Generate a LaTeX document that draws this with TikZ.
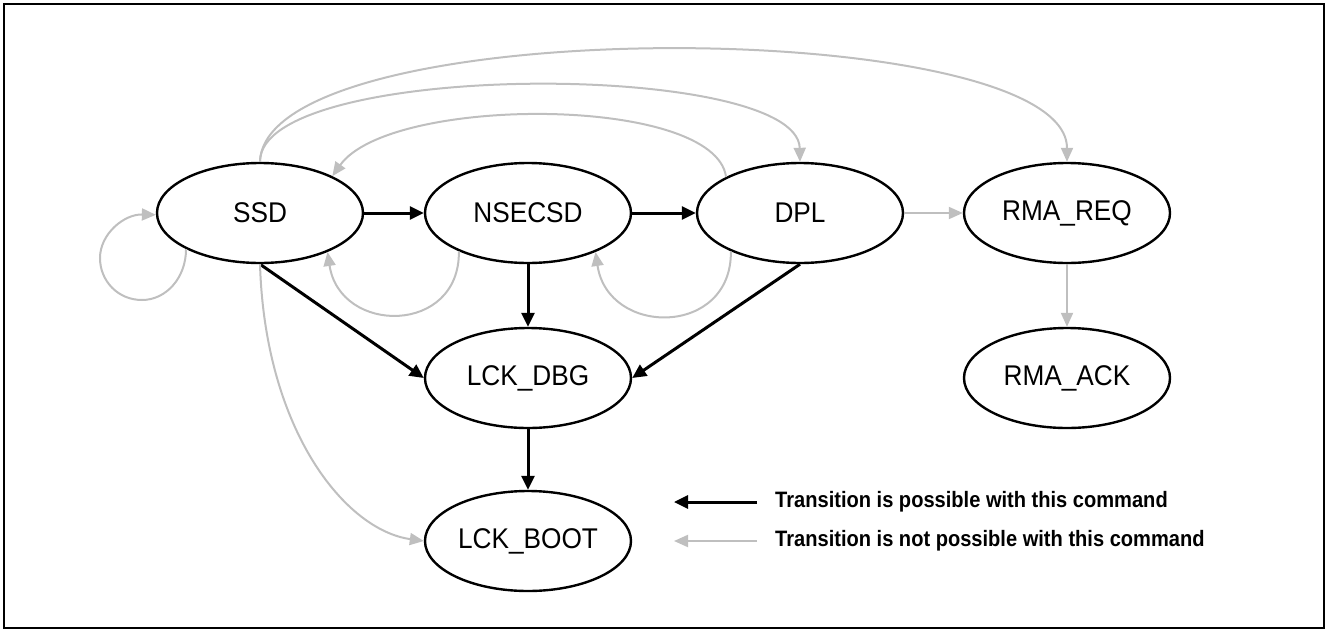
\documentclass[tikz,border=0pt]{standalone}
\usepackage{fontspec}
\setmainfont{Liberation Sans}
\newfontfamily\nodefont[FakeStretch=0.92]{Liberation Sans}
\newfontfamily\legfont[FakeStretch=0.9]{Liberation Sans}
\usetikzlibrary{shapes.geometric,arrows.meta}
\definecolor{lgray}{RGB}{191,191,191}
\tikzset{
  state/.style={ellipse,draw=black,line width=2.4pt,minimum width=206pt,minimum height=100pt,inner sep=0pt,
    font=\nodefont\fontsize{28.5}{32}\selectfont},
  yes/.style={draw=black,line width=3pt,-{Triangle[length=14pt,width=13pt]}},
  no/.style={draw=lgray,line width=2pt,-{Triangle[length=14pt,width=12pt]}},
  legtext/.style={anchor=west,inner sep=0pt,font=\legfont\fontsize{22.3}{26}\selectfont\bfseries}
}
\begin{document}
\begin{tikzpicture}[x=1pt,y=-1pt]
\useasboundingbox (0,0) rectangle (1328,632);
\draw[line width=1.3pt] (4,4) rectangle (1324,628);

\node[state] (SSD) at (260,213) {SSD};
\node[state] (NSECSD) at (528,213) {NSECSD};
\node[state] (DPL) at (800,213) {DPL};
\node[state] (RMAREQ) at (1067,213) {RMA\_REQ};
\node[state] (RMAACK) at (1067,378) {RMA\_ACK};
\node[state] (LCKDBG) at (528,378) {LCK\_DBG};
\node[state] (LCKBOOT) at (528,541) {LCK\_BOOT};

% possible transitions
\draw[yes] (SSD.east) -- (NSECSD.west);
\draw[yes] (NSECSD.east) -- (DPL.west);
\draw[yes] (NSECSD.south) -- (LCKDBG.north);
\draw[yes] (LCKDBG.south) -- (LCKBOOT.north);
\draw[yes] (SSD.south) -- (LCKDBG.west);
\draw[yes] (DPL.south) -- (LCKDBG.east);

% not possible transitions
\draw[no] (DPL.east) -- (RMAREQ.west);
\draw[no] (RMAREQ.south) -- (RMAACK.north);
\draw[no] (SSD.206) .. controls (186,278) and (166,300) .. (142,300)
          .. controls (118,300) and (100,281) .. (100,258)
          .. controls (100,234) and (124,214) .. (SSD.181);
\draw[no] (NSECSD.209) .. controls (460,335) and (340,335) .. (SSD.-30);
\draw[no] (DPL.209) .. controls (732,337) and (608,337) .. (NSECSD.-30);
\draw[no] (DPL.154) .. controls (715,95) and (390,95) .. (SSD.27);
\draw[no] (SSD.north) .. controls (259,60) and (798,60) .. (DPL.north);
\draw[no] (SSD.north) .. controls (265,10) and (1067,15) .. (RMAREQ.north);
\draw[no] (SSD.south) .. controls (265,430) and (345,530) .. (LCKBOOT.west);

% legend
\coordinate (l1a) at (757,502);
\coordinate (l1b) at (674,502);
\coordinate (l2a) at (757,541);
\coordinate (l2b) at (674,541);
\draw[yes] (l1a) -- (l1b);
\draw[no] (l2a) -- (l2b);
\node[legtext] (t1) at (775,502) {Transition is possible with this command};
\node[legtext] (t2) at (775,541) {Transition is not possible with this command};
\end{tikzpicture}
\end{document}
